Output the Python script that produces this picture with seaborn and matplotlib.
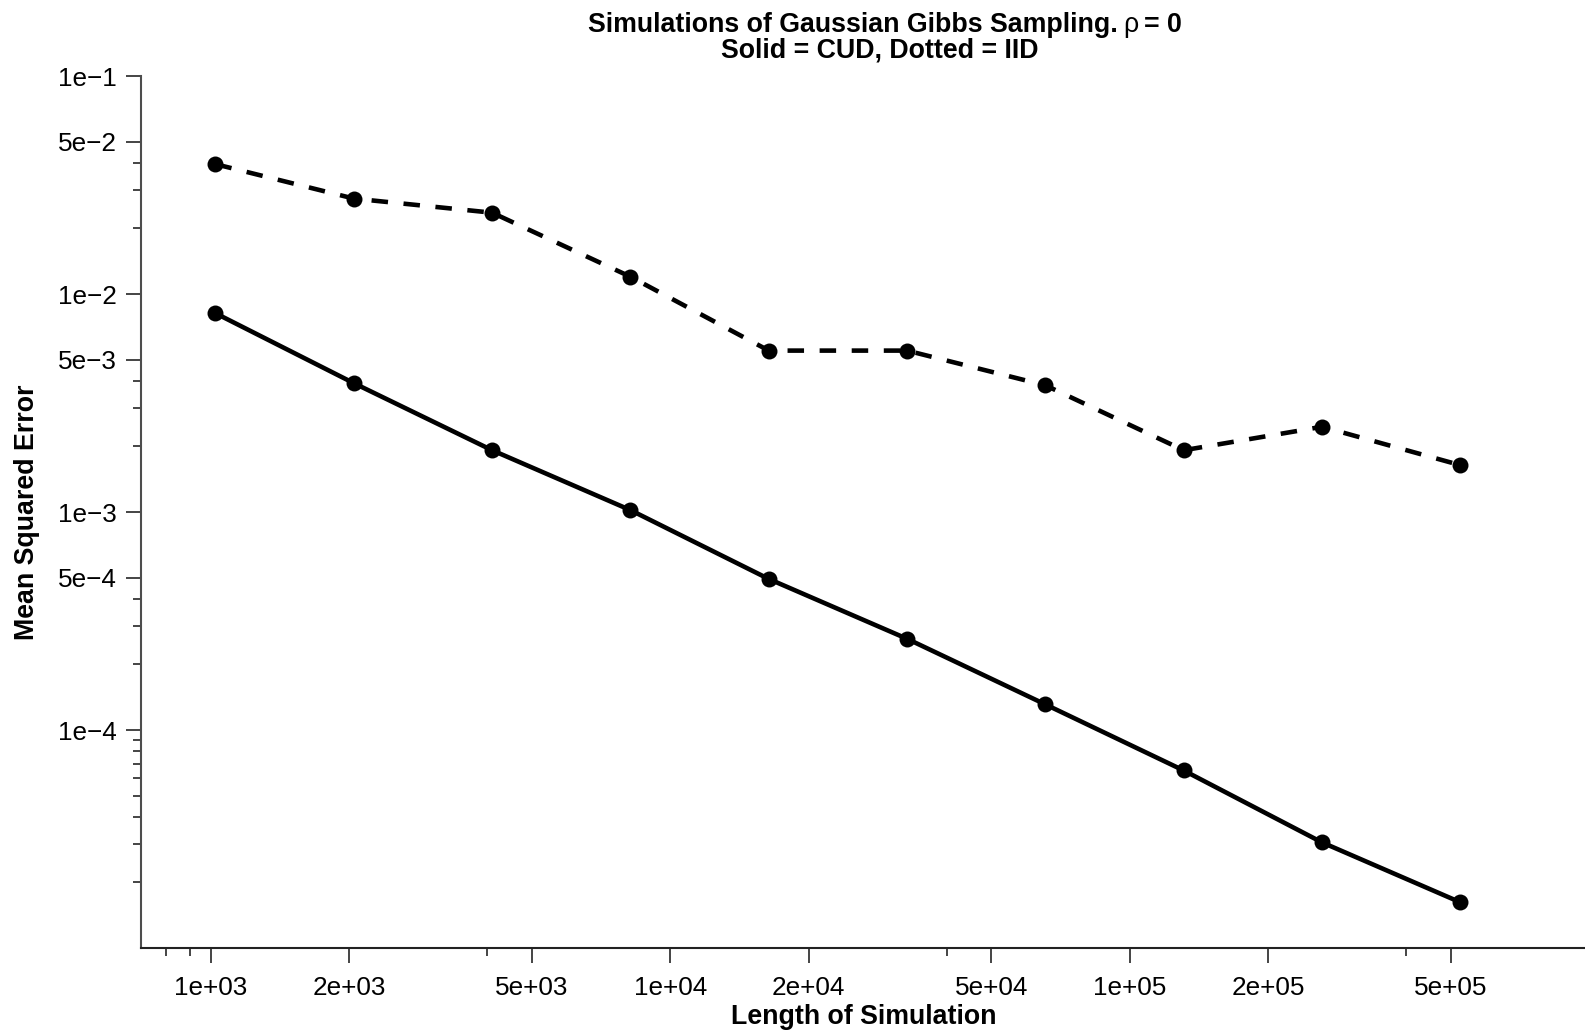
import pandas as pd
import seaborn as sns
import matplotlib.pyplot as plt
from matplotlib.ticker import NullFormatter

# simulation lengths (2^10 .. 2^19) and the mean squared errors
n_sim = [1024, 2048, 4096, 8192, 16384, 32768, 65536, 131072, 262144, 524288]
mse_cud = [8.16e-3, 3.90e-3, 1.92e-3, 1.02e-3, 4.93e-4, 2.62e-4, 1.31e-4, 6.52e-5, 3.05e-5, 1.62e-5]
mse_iid = [3.94e-2, 2.74e-2, 2.36e-2, 1.20e-2, 5.50e-3, 5.50e-3, 3.81e-3, 1.92e-3, 2.46e-3, 1.64e-3]

x_major = [1e3, 2e3, 5e3, 1e4, 2e4, 5e4, 1e5, 2e5, 5e5]
x_labels = ["1e+03", "2e+03", "5e+03", "1e+04", "2e+04", "5e+04", "1e+05", "2e+05", "5e+05"]
x_minor = [8e2, 9e2, 4e3, 4e4, 4e5]
y_major = [1e-1, 5e-2, 1e-2, 5e-3, 1e-3, 5e-4, 1e-4]
y_labels = ["1e\u22121", "5e\u22122", "1e\u22122", "5e\u22123", "1e\u22123", "5e\u22124", "1e\u22124"]
y_minor = [4e-2, 3e-2, 2e-2, 4e-3, 3e-3, 2e-3, 4e-4, 3e-4, 2e-4,
           9e-5, 8e-5, 7e-5, 6e-5, 5e-5, 4e-5, 3e-5, 2e-5]

df = pd.DataFrame({"n": n_sim, "cud": mse_cud, "iid": mse_iid})

sns.set_theme(style="ticks")
plt.rcParams["font.family"] = ["Liberation Sans", "DejaVu Sans"]
plt.rcParams["text.color"] = "black"

W, H = 1585, 1032
fig = plt.figure(figsize=(W / 100, H / 100), dpi=100)
ax = fig.add_axes([140.7 / W, 1 - 948 / H, 1 - 140.7 / W, (948 - 76) / H])

# solid = CUD, dashed = IID
sns.lineplot(data=df, x="n", y="cud", ax=ax, color="black", lw=3.3,
             marker="o", markersize=11.5, markeredgewidth=0, linestyle="-")
sns.lineplot(data=df, x="n", y="iid", ax=ax, color="black", lw=3.3,
             marker="o", markersize=11.5, markeredgewidth=0, linestyle=(0, (3.6, 3.4)))

ax.set_xscale("log")
ax.set_yscale("log")
ax.set_xlim(704, 9.79e5)
ax.set_ylim(1e-5, 1e-1)

ax.set_xticks(x_major, labels=x_labels)
ax.set_xticks(x_minor, minor=True)
ax.set_yticks(y_major, labels=y_labels)
ax.set_yticks(y_minor, minor=True)
ax.xaxis.set_minor_formatter(NullFormatter())
ax.yaxis.set_minor_formatter(NullFormatter())

ax.tick_params(which="major", length=10.5, width=1.4, color="#444444",
               labelcolor="black", labelsize=18.8)
ax.tick_params(axis="y", which="major", pad=6.5)
ax.tick_params(axis="x", which="major", pad=9.5)
ax.tick_params(which="minor", length=5.5, width=1.4, color="#444444")

ax.set_xlabel("")
ax.set_ylabel("")
ax.grid(False)
for side in ["top", "right"]:
    ax.spines[side].set_visible(False)
ax.spines["left"].set_color("#4d4d4d")
ax.spines["left"].set_linewidth(1.5)
ax.spines["bottom"].set_color("#222222")
ax.spines["bottom"].set_linewidth(1.5)

fs = 19.3
fig.text(27 / W, 1 - 512 / H, "Mean Squared Error", rotation=90, ha="center",
         va="center", fontweight="bold", fontsize=fs, color="black")
fig.text(864 / W, 1 - 1024.5 / H, "Length of Simulation", ha="center",
         va="baseline", fontweight="bold", fontsize=fs, color="black")

# title line 1: bold text with a plain rho in the middle
fig.canvas.draw()
r = fig.canvas.get_renderer()
pieces = [("Simulations of Gaussian Gibbs Sampling.", "bold"), ("\u03c1", "normal"), ("= 0", "bold")]
gaps = [5, 6, 0]
objs = [fig.text(0, 1 - 31.7 / H, s, fontweight=w, fontsize=fs, ha="left",
                 va="baseline", color="black") for s, w in pieces]
widths = [o.get_window_extent(r).width for o in objs]
x0 = 885 - (sum(widths) + sum(gaps)) / 2
for o, w, g in zip(objs, widths, gaps):
    o.set_x(x0 / W)
    x0 += w + g

fig.text(880 / W, 1 - 58 / H, "Solid = CUD, Dotted = IID", ha="center",
         va="baseline", fontweight="bold", fontsize=fs, color="black")

fig.savefig("out.png", dpi=100)
